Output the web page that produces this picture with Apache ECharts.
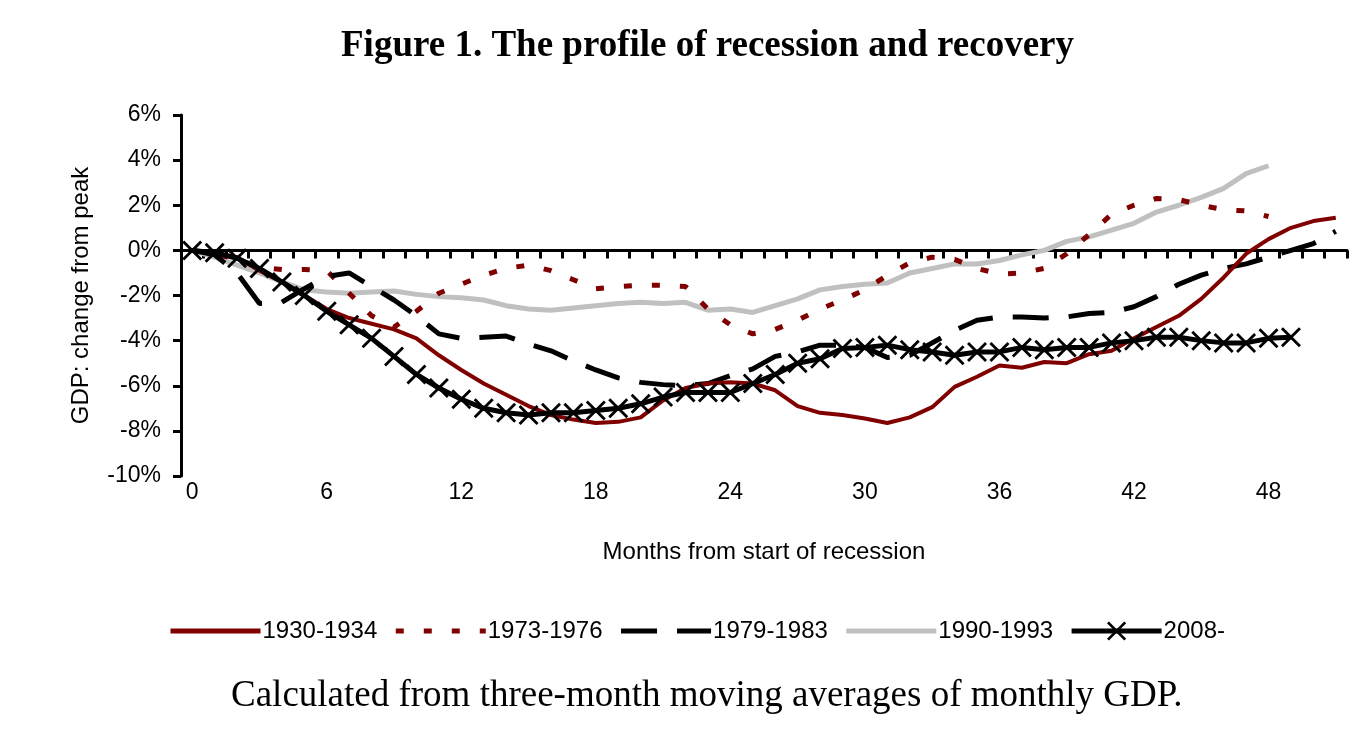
<!DOCTYPE html>
<html>
<head>
<meta charset="utf-8">
<script src="https://cdn.jsdelivr.net/npm/echarts@6/dist/echarts.min.js"></script>
<style>
html,body{margin:0;padding:0;background:#fff;}
#chart{width:1365px;height:729px;}
</style>
</head>
<body>
<div id="chart"></div>
<script>
var months = [0,1,2,3,4,5,6,7,8,9,10,11,12,13,14,15,16,17,18,19,20,21,22,23,24,25,26,27,28,29,30,31,32,33,34,35,36,37,38,39,40,41,42,43,44,45,46,47,48,49,50,51];
var yTicks = [-10,-8,-6,-4,-2,0,2,4,6];

var s1930 = [0,-0.1,-0.3,-0.9,-1.4,-2.0,-2.6,-3.0,-3.25,-3.5,
             -3.9,-4.65,-5.3,-5.9,-6.4,-6.9,-7.3,-7.5,-7.65,-7.6,
             -7.4,-6.65,-6.1,-5.9,-5.85,-5.9,-6.2,-6.9,-7.2,-7.3,
             -7.45,-7.65,-7.4,-6.95,-6.05,-5.6,-5.1,-5.2,-4.95,-5.0,
             -4.6,-4.45,-3.9,-3.4,-2.9,-2.15,-1.2,-0.15,0.5,1.0,
             1.3,1.45];
var s1973 = [0,-0.15,-0.4,-0.75,-0.85,-0.85,-0.9,-1.9,-2.9,-3.4,
             -2.7,-1.9,-1.5,-1.1,-0.8,-0.65,-0.9,-1.3,-1.7,-1.6,
             -1.55,-1.55,-1.6,-2.6,-3.3,-3.7,-3.5,-3.1,-2.6,-2.2,
             -1.75,-1.1,-0.55,-0.3,-0.4,-0.8,-1.05,-1.0,-0.8,-0.15,
             0.7,1.6,2.0,2.3,2.25,2.0,1.8,1.75,1.5];
var s1979 = [0,-0.2,-1.0,-2.35,-2.3,-1.7,-1.15,-1.0,-1.6,-2.2,
             -2.9,-3.7,-3.9,-3.85,-3.8,-4.15,-4.45,-4.9,-5.3,-5.65,
             -5.85,-5.95,-6.0,-5.9,-5.55,-5.25,-4.7,-4.5,-4.2,-4.2,
             -4.3,-4.75,-4.65,-4.1,-3.55,-3.1,-2.95,-2.95,-3.0,-2.95,
             -2.8,-2.75,-2.5,-2.05,-1.5,-1.1,-0.8,-0.6,-0.3,0.0,
             0.3,0.85];
var s1990 = [0,-0.3,-0.65,-1.0,-1.4,-1.75,-1.85,-1.9,-1.85,-1.8,
             -1.95,-2.05,-2.1,-2.2,-2.45,-2.6,-2.65,-2.55,-2.45,-2.35,
             -2.3,-2.35,-2.3,-2.65,-2.6,-2.75,-2.45,-2.15,-1.75,-1.6,
             -1.5,-1.45,-1.0,-0.8,-0.6,-0.6,-0.45,-0.2,0.0,0.4,
             0.6,0.9,1.2,1.7,2.0,2.35,2.75,3.4,3.75];
var s2008 = [0,-0.1,-0.35,-0.8,-1.4,-2.0,-2.7,-3.3,-3.9,-4.7,
             -5.5,-6.1,-6.6,-7.0,-7.2,-7.3,-7.2,-7.2,-7.1,-7.0,
             -6.8,-6.5,-6.3,-6.3,-6.3,-5.9,-5.5,-5.0,-4.8,-4.35,
             -4.3,-4.2,-4.4,-4.5,-4.65,-4.5,-4.5,-4.3,-4.4,-4.3,
             -4.3,-4.1,-4.0,-3.85,-3.85,-4.0,-4.1,-4.1,-3.9,-3.85];

var RED = '#800000', GRAY = '#c0c0c0', BLACK = '#000000';
var SANS = 'Liberation Sans, Arial, sans-serif';
var SERIF = 'Liberation Serif, Times New Roman, serif';
var xMark = 'path://M0,1 L1,0 L10,9 L9,10 Z M9,0 L10,1 L1,10 L0,9 Z';

var chart = echarts.init(document.getElementById('chart'), null, {renderer: 'canvas'});
chart.setOption({
  animation: false,
  backgroundColor: '#fff',
  title: [
    {text: 'Figure 1. The profile of recession and recovery', left: 336, top: 23,
     textStyle: {fontFamily: SERIF, fontWeight: 'bold', fontSize: 37, color: '#000'}},
    {text: 'Calculated from three-month moving averages of monthly GDP.', left: 226, top: 673,
     textStyle: {fontFamily: SERIF, fontWeight: 'normal', fontSize: 37, color: '#000'}}
  ],
  grid: {left: 181, right: 18, top: 115, bottom: 253, containLabel: false},
  legend: {
    left: 163, top: 614, itemWidth: 90, itemHeight: 24, itemGap: 16,
    lineStyle: {width: 5},
    data: [
      {name: '1930-1934', itemStyle: {opacity: 0}},
      {name: '1973-1976', itemStyle: {opacity: 0}},
      {name: '1979-1983', itemStyle: {opacity: 0}},
      {name: '1990-1993', itemStyle: {opacity: 0}},
      {name: '2008-'}
    ],
    textStyle: {fontFamily: SANS, fontSize: 24, color: '#000', padding: [0,0,0,-3]}
  },
  xAxis: [
    {type: 'category', data: months, position: 'top', boundaryGap: true,
     axisLine: {onZero: true, lineStyle: {color: '#000', width: 3}},
     axisTick: {show: true, inside: true, interval: 0, length: 8, lineStyle: {color: '#000', width: 3}},
     axisLabel: {show: false}, splitLine: {show: false}},
    {type: 'category', data: months, position: 'bottom', boundaryGap: true,
     axisLine: {show: false, onZero: false}, axisTick: {show: false},
     axisLabel: {show: true, interval: 5, margin: 5, fontFamily: SANS, fontSize: 23, color: '#000'},
     name: 'Months from start of recession', nameLocation: 'middle', nameGap: 64,
     nameTextStyle: {fontFamily: SANS, fontSize: 24, color: '#000'},
     splitLine: {show: false}}
  ],
  yAxis: {
    type: 'value', min: yTicks[0], max: yTicks[yTicks.length-1], interval: 2,
    axisLine: {show: true, lineStyle: {color: '#000', width: 3}},
    axisTick: {show: true, length: 8, lineStyle: {color: '#000', width: 3}},
    axisLabel: {margin: 20, fontFamily: SANS, fontSize: 23, color: '#000', formatter: '{value}%'},
    splitLine: {show: false},
    name: 'GDP: change from peak', nameLocation: 'middle', nameGap: 88, nameRotate: 90,
    nameTextStyle: {fontFamily: SANS, fontSize: 24, color: '#000'}
  },
  series: [
    {name: '1990-1993', type: 'line', data: s1990, symbol: 'none', z: 1,
     lineStyle: {color: GRAY, width: 5}, itemStyle: {color: GRAY}},
    {name: '1973-1976', type: 'line', data: s1973, symbol: 'none', z: 2,
     lineStyle: {color: RED, width: 5, type: [8, 20], cap: 'butt'}, itemStyle: {color: RED}},
    {name: '1979-1983', type: 'line', data: s1979, symbol: 'none', z: 3,
     lineStyle: {color: BLACK, width: 5, type: [36, 20], cap: 'butt'}, itemStyle: {color: BLACK}},
    {name: '1930-1934', type: 'line', data: s1930, symbol: 'none', z: 4,
     lineStyle: {color: RED, width: 4}, itemStyle: {color: RED}},
    {name: '2008-', type: 'line', data: s2008, symbol: xMark, symbolSize: 20, z: 5,
     showSymbol: true, showAllSymbol: true,
     lineStyle: {color: BLACK, width: 5}, itemStyle: {color: BLACK}}
  ]
});
</script>
</body>
</html>
